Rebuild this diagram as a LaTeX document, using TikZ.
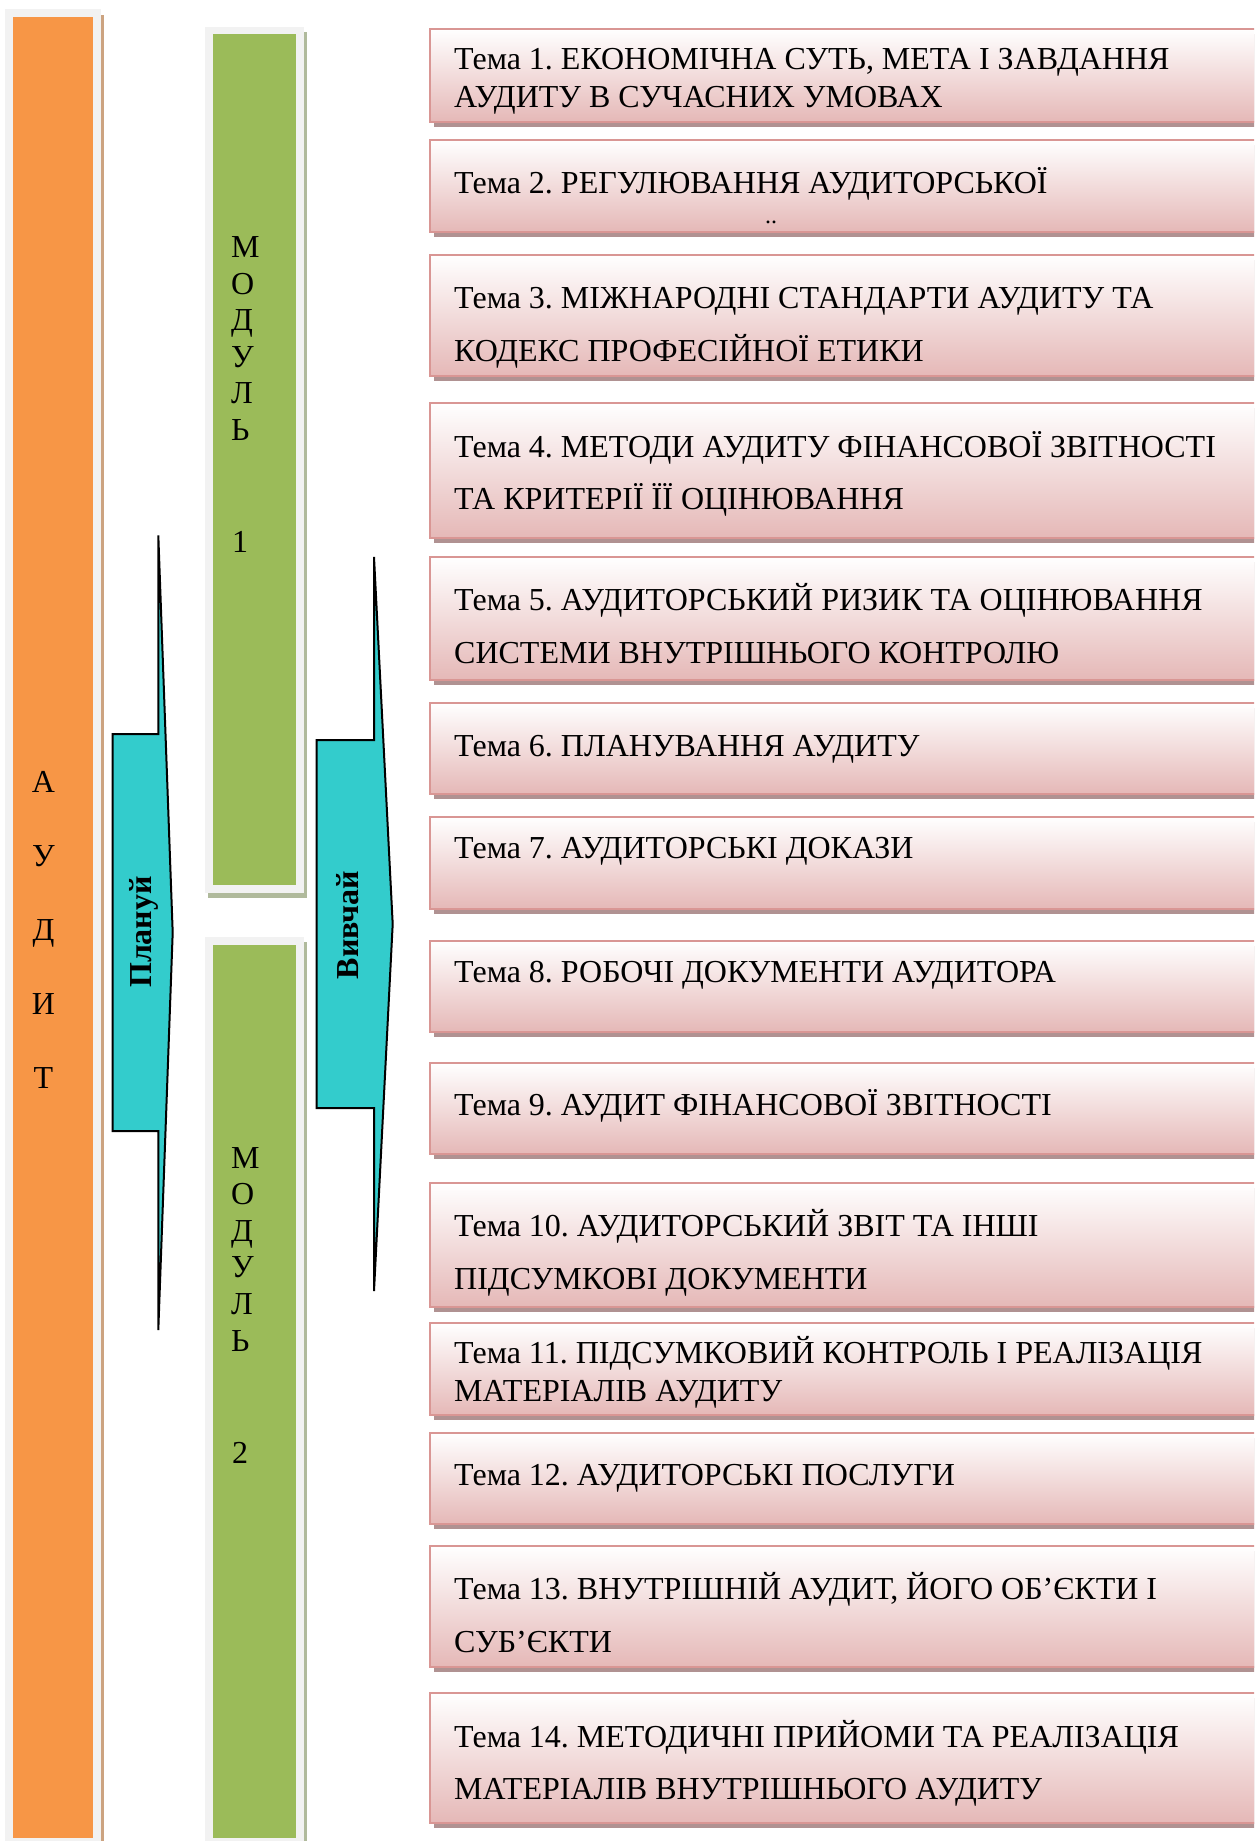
\documentclass[tikz,border=0pt]{standalone}
\usepackage{fontspec}
\setmainfont{Liberation Serif}
\usetikzlibrary{shadows}
\definecolor{orangeA}{RGB}{247,150,70}
\definecolor{greenA}{RGB}{155,187,89}
\definecolor{frameA}{RGB}{242,242,242}
\definecolor{shadowO}{RGB}{204,163,128}
\definecolor{shadowG}{RGB}{176,186,156}
\definecolor{turq}{RGB}{51,204,204}
\definecolor{pinkB}{RGB}{229,184,183}
\definecolor{pinkD}{RGB}{217,150,148}
\definecolor{pinkS}{RGB}{176,146,146}
\frenchspacing
\begin{document}
\begin{tikzpicture}[x=1pt,y=-1pt,
  bigfont/.style={font=\fontsize{32}{38}\selectfont},
  frame/.style={fill=frameA, anchor=north west, inner sep=0pt, outer sep=0pt},
  bar/.style={anchor=north west, inner sep=0pt, outer sep=0pt},
  topicbox/.style={draw=pinkD, line width=2.5pt, top color=white, bottom color=pinkB,
    anchor=north west, inner sep=0pt, outer sep=0pt, minimum width=850pt,
    drop shadow={shadow xshift=4pt, shadow yshift=-5pt, fill=pinkS, opacity=1}},
  topictext/.style={bigfont, anchor=base west, inner sep=0pt},
  letter/.style={bigfont, anchor=base west, inner sep=0pt},
  cletter/.style={bigfont, anchor=base, inner sep=0pt},
  arrowshape/.style={fill=turq, draw=black, line width=2pt},
  arrowtext/.style={font=\fontsize{32}{38}\selectfont\bfseries, rotate=90, inner sep=0pt}
]
\useasboundingbox (0,0) rectangle (1254,1841);
\clip (0,0) rectangle (1254,1841);

% ---- left orange column
\node[frame, minimum width=96pt, minimum height=1845pt,
  drop shadow={shadow xshift=3pt, shadow yshift=-6pt, fill=shadowO, opacity=1}] (oframe) at (5,9) {};
\node[bar, fill=orangeA, minimum width=80pt, minimum height=1821pt] (obar) at (13,17) {};
\node[cletter] (oA) at (43.5,792.5) {А};
\node[cletter] (oU) at (43.5,866.4) {У};
\node[cletter] (oD) at (43.5,940.3) {Д};
\node[cletter] (oY) at (43.5,1014.2) {И};
\node[cletter] (oT) at (43.5,1088.1) {Т};

% ---- module 1
\node[frame, minimum width=99pt, minimum height=866pt,
  drop shadow={shadow xshift=3pt, shadow yshift=-5pt, fill=shadowG, opacity=1}] (m1frame) at (205,27) {};
\node[bar, fill=greenA, minimum width=83pt, minimum height=851pt] (m1bar) at (213,34) {};
\node[letter] (m1a) at (231,257.5) {М};
\node[letter] (m1b) at (231,294) {О};
\node[letter] (m1c) at (231,330.5) {Д};
\node[letter] (m1d) at (231,367) {У};
\node[letter] (m1e) at (231,403.5) {Л};
\node[letter] (m1f) at (231,440) {Ь};
\node[letter] (m1n) at (232,552.5) {1};

% ---- module 2
\node[frame, minimum width=99pt, minimum height=910pt,
  drop shadow={shadow xshift=3pt, shadow yshift=-5pt, fill=shadowG, opacity=1}] (m2frame) at (205,937) {};
\node[bar, fill=greenA, minimum width=83pt, minimum height=893pt] (m2bar) at (213,945) {};
\node[letter] (m2a) at (231,1168) {М};
\node[letter] (m2b) at (231,1204.6) {О};
\node[letter] (m2c) at (231,1241.2) {Д};
\node[letter] (m2d) at (231,1277.8) {У};
\node[letter] (m2e) at (231,1314.4) {Л};
\node[letter] (m2f) at (231,1351) {Ь};
\node[letter] (m2n) at (232,1463) {2};

% ---- arrows
\draw[arrowshape] (112.7,734) -- (158.3,734) -- (158.3,535.3) -- (172.7,932.5)
  -- (158.3,1330) -- (158.3,1131) -- (112.7,1131) -- cycle;
\node[arrowtext] (plan) at (144,932) {Плануй};
\draw[arrowshape] (316.7,740) -- (374,740) -- (374,557) -- (392.7,924)
  -- (374,1291) -- (374,1108) -- (316.7,1108) -- cycle;
\node[arrowtext] (study) at (347.5,925) {Вивчай};

% ---- topic boxes
\node[topicbox, minimum height=93pt]  (b1)  at (430,29) {};
\node[topicbox, minimum height=92pt]  (b2)  at (430,140) {};
\node[topicbox, minimum height=121pt] (b3)  at (430,255) {};
\node[topicbox, minimum height=135pt] (b4)  at (430,403) {};
\node[topicbox, minimum height=123pt] (b5)  at (430,557) {};
\node[topicbox, minimum height=91pt]  (b6)  at (430,703) {};
\node[topicbox, minimum height=92pt]  (b7)  at (430,817) {};
\node[topicbox, minimum height=91pt]  (b8)  at (430,941) {};
\node[topicbox, minimum height=91pt]  (b9)  at (430,1063) {};
\node[topicbox, minimum height=124pt] (b10) at (430,1183) {};
\node[topicbox, minimum height=92pt]  (b11) at (430,1323) {};
\node[topicbox, minimum height=91pt]  (b12) at (430,1433) {};
\node[topicbox, minimum height=121pt] (b13) at (430,1546) {};
\node[topicbox, minimum height=130pt] (b14) at (430,1693) {};

% ---- topic texts
\node[topictext] (t1a) at (454,70) {Тема 1. ЕКОНОМІЧНА СУТЬ, МЕТА І ЗАВДАННЯ};
\node[topictext] (t1b) at (454,108) {АУДИТУ В СУЧАСНИХ УМОВАХ};
\node[topictext] (t2a) at (454,193.5) {Тема 2. РЕГУЛЮВАННЯ АУДИТОРСЬКОЇ};
\node[font=\fontsize{24}{28}\selectfont, anchor=base, inner sep=0pt] (t2b) at (771,223) {..};
\node[topictext] (t3a) at (454,308) {Тема 3. МІЖНАРОДНІ СТАНДАРТИ АУДИТУ ТА};
\node[topictext] (t3b) at (454,361) {КОДЕКС ПРОФЕСІЙНОЇ ЕТИКИ};
\node[topictext] (t4a) at (454,457) {Тема 4. МЕТОДИ АУДИТУ ФІНАНСОВОЇ ЗВІТНОСТІ};
\node[topictext] (t4b) at (454,509) {ТА КРИТЕРІЇ ЇЇ ОЦІНЮВАННЯ};
\node[topictext] (t5a) at (454,610) {Тема 5. АУДИТОРСЬКИЙ РИЗИК ТА ОЦІНЮВАННЯ};
\node[topictext] (t5b) at (454,663) {СИСТЕМИ ВНУТРІШНЬОГО КОНТРОЛЮ};
\node[topictext] (t6a) at (454,756) {Тема 6. ПЛАНУВАННЯ АУДИТУ};
\node[topictext] (t7a) at (454,858) {Тема 7. АУДИТОРСЬКІ ДОКАЗИ};
\node[topictext] (t8a) at (454,982) {Тема 8. РОБОЧІ ДОКУМЕНТИ АУДИТОРА};
\node[topictext] (t9a) at (454,1115) {Тема 9. АУДИТ ФІНАНСОВОЇ ЗВІТНОСТІ};
\node[topictext] (t10a) at (454,1236) {Тема 10. АУДИТОРСЬКИЙ ЗВІТ ТА ІНШІ};
\node[topictext] (t10b) at (454,1289) {ПІДСУМКОВІ ДОКУМЕНТИ};
\node[topictext] (t11a) at (454,1363) {Тема 11. ПІДСУМКОВИЙ КОНТРОЛЬ І РЕАЛІЗАЦІЯ};
\node[topictext] (t11b) at (454,1401.5) {МАТЕРІАЛІВ АУДИТУ};
\node[topictext] (t12a) at (454,1485.5) {Тема 12. АУДИТОРСЬКІ ПОСЛУГИ};
\node[topictext] (t13a) at (454,1599) {Тема 13. ВНУТРІШНІЙ АУДИТ, ЙОГО ОБ’ЄКТИ І};
\node[topictext] (t13b) at (454,1652) {СУБ’ЄКТИ};
\node[topictext] (t14a) at (454,1747) {Тема 14. МЕТОДИЧНІ ПРИЙОМИ ТА РЕАЛІЗАЦІЯ};
\node[topictext] (t14b) at (454,1799) {МАТЕРІАЛІВ ВНУТРІШНЬОГО АУДИТУ};
\end{tikzpicture}
\end{document}
